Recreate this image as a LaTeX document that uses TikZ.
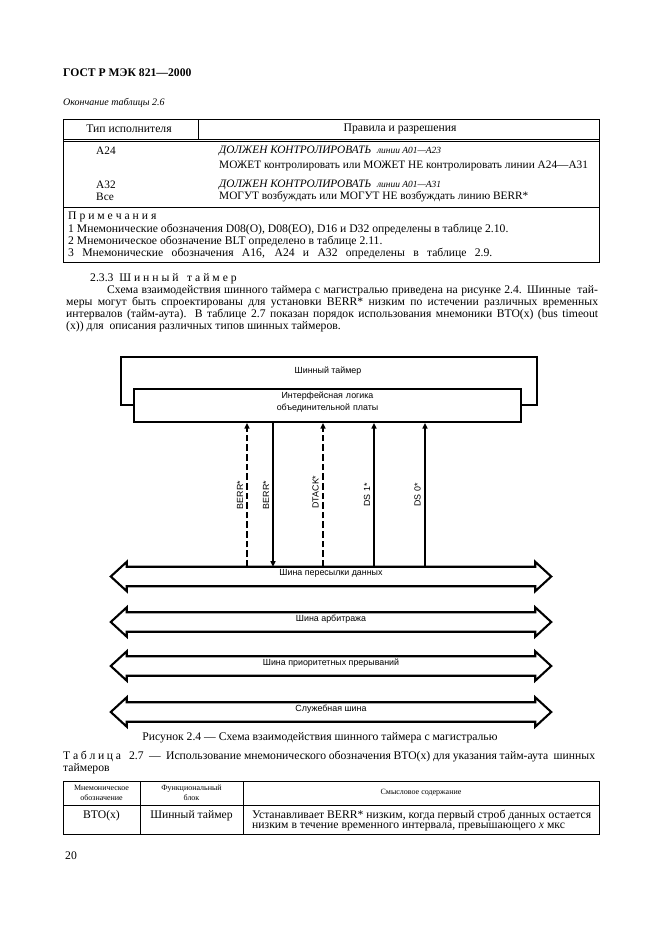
\documentclass[tikz,border=0pt]{standalone}
\usepackage{fontspec}
\setmainfont{Liberation Serif}
\newfontfamily\dsans{Liberation Sans}
\usetikzlibrary{arrows.meta,fit,calc}
\newcommand\jl[2]{\makebox[#1][s]{#2}}
\begin{document}
\begin{tikzpicture}[x=0.9006pt,y=-0.9006pt,
  tx/.style={inner sep=0pt, font=\fontsize{10.5}{12}\selectfont},
  tl/.style={tx, anchor=west},
  rw/.style={tl, font=\fontsize{10.2}{12}\selectfont},
  small/.style={inner sep=0pt, font=\fontsize{7.2}{8.6}\selectfont, align=center},
  tbl/.style={line width=0.8pt},
  box/.style={line width=1.8pt},
  dg/.style={inner sep=0pt, font=\dsans\fontsize{8}{10}\selectfont},
  sig/.style={line width=1.3pt},
  dsig/.style={line width=2pt, dash pattern=on 6pt off 2.7pt},
  up/.style={-{Triangle[length=5pt,width=4.5pt]}},
  down/.style={-{Triangle[length=5pt,width=4.5pt]}},
  bus/.style={line width=1.9pt, line join=miter},
  fitbox/.style={inner sep=0pt, draw=none}]
\useasboundingbox (0,0) rectangle (661,936);
\fill[white] (0,0) rectangle (661,936);

% ---------- heading ----------
\node[tl, font=\fontsize{10.5}{12}\bfseries\selectfont] (hdr) at (63,73) {ГОСТ Р МЭК 821—2000};
\node[tl, font=\fontsize{9}{11}\itshape\selectfont] (t26cap) at (63,103) {Окончание таблицы 2.6};

% ---------- table 2.6 ----------
\draw[tbl] (63,119) rectangle (599,262);
\draw[tbl] (63,139.3) -- (599,139.3);
\draw[tbl] (63,141.7) -- (599,141.7);
\draw[tbl] (198,119) -- (198,139.3);
\draw[tbl] (63,207) -- (599,207);
\node[tx] (h1) at (129,129) {Тип исполнителя};
\node[tx] (h2) at (400,129) {Правила и разрешения};
\node[rw] (a24) at (96,151) {A24};
\node[rw] (r1) at (219,151) {\itshape ДОЛЖЕН КОНТРОЛИРОВАТЬ \ {\fontsize{8.5}{10}\selectfont линии A01—A23}};
\node[rw] (r2) at (219,165.5) {МОЖЕТ контролировать или МОЖЕТ НЕ контролировать линии A24—A31};
\node[rw] (a32) at (96,185) {A32};
\node[rw] (r3) at (219,185) {\itshape ДОЛЖЕН КОНТРОЛИРОВАТЬ \ {\fontsize{8.5}{10}\selectfont линии A01—A31}};
\node[rw] (all) at (96,197) {Все};
\node[rw] (r4) at (219,197) {МОГУТ возбуждать или МОГУТ НЕ возбуждать линию BERR*};
\node[tl] (n0) at (68,216.5) {П р и м е ч а н и я};
\node[tl] (n1) at (68,229.5) {1 Мнемонические обозначения D08(O), D08(EO), D16 и D32 определены в таблице 2.10.};
\node[tl] (n2) at (68,242) {2 Мнемоническое обозначение BLT определено в таблице 2.11.};
\node[tl] (n3) at (68,254) {\jl{382pt}{3 Мнемонические обозначения A16, A24 и A32 определены в таблице 2.9.}};

% ---------- section text ----------
\node[tl] (sec) at (90,279) {2.3.3 \ Ш и н н ы й \ \ т а й м е р};
\node[tl] (p1) at (107,291) {\jl{442pt}{Схема взаимодействия шинного таймера с магистралью приведена на рисунке 2.4. Шинные \ тай-}};
\node[tl] (p2) at (66,303) {\jl{479pt}{меры могут быть спроектированы для установки BERR* низким по истечении различных временных}};
\node[tl] (p3) at (66,315) {\jl{479pt}{интервалов (тайм-аута). В таблице 2.7 показан порядок использования мнемоники BTO(x) (bus timeout}};
\node[tl] (p4) at (66,327) {(x)) для \ описания различных типов шинных таймеров.};

% ---------- diagram ----------
\node[fitbox, fit={(121,357) (537,405)}] (bt) {};
\node[dg] (btl) at (328,371) {Шинный таймер};
\node[fitbox, fit={(134,389) (521,422)}, draw, box, dg, align=center] (ifl) {Интерфейсная логика\\[1pt]объединительной платы};
\draw[box] (ifl.west |- bt.south) -- (bt.south west) -- (bt.north west) -- (bt.north east) -- (bt.south east) -- (ifl.east |- bt.south);

% buses
\foreach \n/\c/\t in {1/576.5/Шина пересылки данных, 2/622/Шина арбитража, 3/666/Шина приоритетных прерываний, 4/712/Служебная шина}{
  \node[fitbox, fit={(127,\c-9.5) (535,\c+9.5)}, dg] (bus\n) {\t};
  \draw[bus] (bus\n.north west) -- (bus\n.north east) -- ++(0,-5) -- ($(bus\n.east)+(16,0)$) -- ($(bus\n.south east)+(0,5)$) -- (bus\n.south east) -- (bus\n.south west) -- ++(0,5) -- ($(bus\n.west)+(-16,0)$) -- ($(bus\n.north west)+(0,-5)$) -- cycle;
}

% signal lines
\coordinate (x1) at (247,0);
\coordinate (x2) at (273,0);
\coordinate (x3) at (323,0);
\coordinate (x4) at (374,0);
\coordinate (x5) at (425,0);
\draw[dsig, up] (bus1.north -| x1) -- (ifl.south -| x1);
\draw[sig, down] (ifl.south -| x2) -- (bus1.north -| x2);
\draw[dsig, up] (bus1.north -| x3) -- (ifl.south -| x3);
\draw[sig, up] (bus1.north -| x4) -- (ifl.south -| x4);
\draw[sig, up] (bus1.north -| x5) -- (ifl.south -| x5);
\node[dg, rotate=90] (lb1) at (240,495) {BERR*};
\node[dg, rotate=90] (lb2) at (266,495) {BERR*};
\node[dg, rotate=90] (lb3) at (315.5,492) {DTACK*};
\node[dg, rotate=90] (lb4) at (367,495) {DS 1*};
\node[dg, rotate=90] (lb5) at (417.5,495) {DS 0*};

% ---------- caption ----------
\node[tx] (cap) at (320,738) {Рисунок 2.4 — Схема взаимодействия шинного таймера с магистралью};

% ---------- table 2.7 ----------
\node[tl] (t27a) at (63,757) {\jl{479pt}{Т а б л и ц а \ \ 2.7 \ — \ Использование мнемонического обозначения BTO(x) для указания тайм-аута \ шинных}};
\node[tl] (t27b) at (63,769) {таймеров};
\draw[tbl] (63,781) rectangle (599,834);
\draw[tbl] (63,805) -- (599,805);
\draw[tbl] (140,781) -- (140,834);
\draw[tbl] (243,781) -- (243,834);
\node[small] (c1) at (101.5,793) {Мнемоническое\\обозначение};
\node[small] (c2) at (191.5,793) {Функциональный\\блок};
\node[small] (c3) at (421,793) {Смысловое содержание};
\node[tx] (v1) at (101.5,815.5) {BTO(x)};
\node[tx] (v2) at (191.5,815.5) {Шинный таймер};
\node[tl] (v3) at (252,815.5) {Устанавливает BERR* низким, когда первый строб данных остается};
\node[tl] (v4) at (252,827) {низким в течение временного интервала, превышающего \textit{x} мкс};

\node[tl] (pg) at (65,856) {20};
\end{tikzpicture}
\end{document}
